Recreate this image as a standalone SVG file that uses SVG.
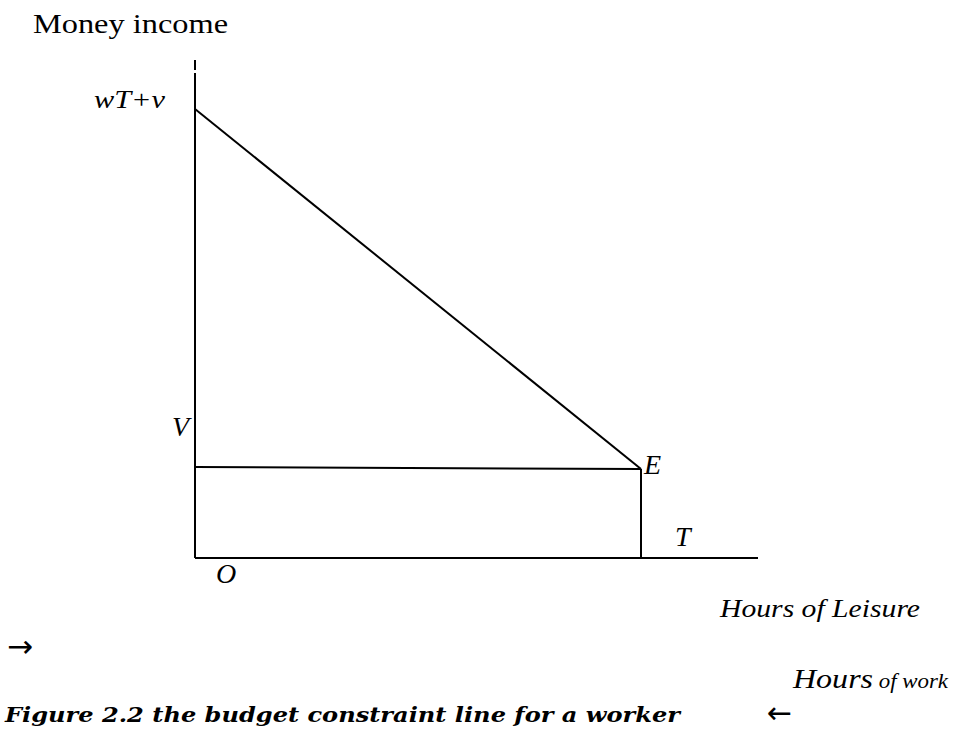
<svg xmlns="http://www.w3.org/2000/svg" width="953" height="730" viewBox="0 0 953 730">
<style>
.ln{stroke:#000;stroke-width:2;fill:none}
.t{font-family:"Liberation Serif","DejaVu Serif",serif;fill:#000}
.i{font-style:italic}
.ar{font-family:"DejaVu Sans",sans-serif;fill:#000}
.cap{font-family:"DejaVu Serif","Liberation Serif",serif;font-weight:bold;font-style:italic;fill:#000}
</style>
<rect width="953" height="730" fill="#fff"/>
<g id="axes">
<line class="ln" x1="195" y1="60" x2="195" y2="70"/>
<line class="ln" x1="195" y1="73" x2="195" y2="558"/>
<line class="ln" x1="195" y1="558" x2="758" y2="558"/>
</g>
<g id="connectors">
<line class="ln" x1="195" y1="109" x2="641" y2="469"/>
<line class="ln" x1="195" y1="467" x2="641" y2="469"/>
<line class="ln" x1="641" y1="469" x2="641" y2="558"/>
</g>
<g id="labels">
<text class="t" x="33" y="33" font-size="28" textLength="195" lengthAdjust="spacingAndGlyphs">Money income</text>
<text class="t i" x="94" y="108" font-size="26" textLength="71" lengthAdjust="spacingAndGlyphs">wT+v</text>
<text class="t i" x="172" y="436" font-size="28">V</text>
<text class="t i" x="644" y="474" font-size="28">E</text>
<text class="t i" x="675" y="546" font-size="28">T</text>
<text class="t i" x="216" y="583" font-size="28">O</text>
<text class="t i" x="720" y="617" font-size="26" textLength="200" lengthAdjust="spacingAndGlyphs">Hours of Leisure</text>
<text class="ar" x="7" y="657" font-size="31">→</text>
<text class="t i" x="793" y="688" font-size="26" textLength="155" lengthAdjust="spacingAndGlyphs"><tspan font-size="28">Hours</tspan><tspan font-size="20"> of work</tspan></text>
<text class="ar" x="767" y="723" font-size="30">←</text>
</g>
<g id="caption">
<text class="cap" x="5" y="722" font-size="21" textLength="675" lengthAdjust="spacingAndGlyphs">Figure 2.2 the budget constraint line for a worker</text>
</g>
</svg>
